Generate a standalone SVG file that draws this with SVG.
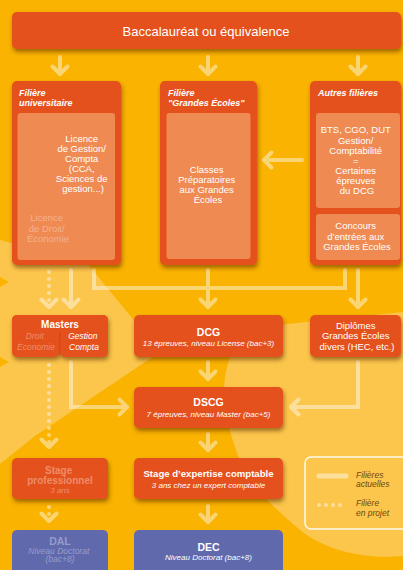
<svg xmlns="http://www.w3.org/2000/svg" width="403" height="570" viewBox="0 0 403 570">
<style>
.box{fill:#E5511A}
.panel{fill:#EF8A52}
.blue{fill:#6169AD}
.t{font-family:"Liberation Sans",Arial,sans-serif;fill:#fff;text-anchor:middle}
.ti{font-family:"Liberation Sans",Arial,sans-serif;fill:#fff;font-style:italic;font-weight:bold;font-size:9px}
.b{font-weight:bold}
.i{font-style:italic}
.fade{fill-opacity:0.35}
.lg{font-family:"Liberation Sans",Arial,sans-serif;fill:#6E4813;font-style:italic;font-size:8.5px}
.ln{fill:none;stroke:#fff;stroke-width:4;stroke-linecap:round}
.dot{stroke-dasharray:0 7}
</style>
<defs>
<filter id="sh" x="-10%" y="-15%" width="125%" height="145%">
<feDropShadow dx="1" dy="3" stdDeviation="2" flood-color="#5a2800" flood-opacity="0.55"/>
</filter>
<marker id="ah" markerUnits="userSpaceOnUse" markerWidth="24" markerHeight="24" viewBox="-12 -12 24 24" refX="0" refY="0" orient="auto">
<path d="M-7.5,-7.5 L0,0 L-7.5,7.5" fill="none" stroke="#fff" stroke-width="4" stroke-linecap="round" stroke-linejoin="round"/>
</marker>
</defs>
<rect width="403" height="570" fill="#F9B300"/>
<g id="background" fill="#FBC64B">
<path d="M0,240 L86,262 L160,352 L35,436 L0,464 Z"/>
<path d="M250,328 L403,312 L403,556 C360,560 322,548 300,530 C270,505 245,480 236,450 C222,410 220,380 232,352 Z"/>
<path d="M0,277 L9,282 L0,287 Z M0,357 L9,362 L0,367 Z" fill="#F9B300"/>
</g>

<g id="connectors" opacity="0.45">
<path class="ln" d="M60,57 V74" marker-end="url(#ah)"/>
<path class="ln" d="M208,57 V74" marker-end="url(#ah)"/>
<path class="ln" d="M358,57 V74" marker-end="url(#ah)"/>
<path class="ln" d="M302,160 H264" marker-end="url(#ah)"/>
<path class="ln dot" d="M49,272 V307" marker-end="url(#ah)"/>
<path class="ln" d="M71,270 V307" marker-end="url(#ah)"/>
<path class="ln" d="M94,270 V288 H345 V270" stroke-linejoin="miter" stroke-linecap="butt"/>
<path class="ln" d="M208,270 V307" marker-end="url(#ah)"/>
<path class="ln" d="M358,270 V307" marker-end="url(#ah)"/>
<path class="ln" d="M208,362 V379" marker-end="url(#ah)"/>
<path class="ln" d="M71,362 V407 H127" marker-end="url(#ah)"/>
<path class="ln" d="M358,362 V407 H291" marker-end="url(#ah)"/>
<path class="ln dot" d="M49,365 V447" marker-end="url(#ah)"/>
<path class="ln" d="M208,434 V450" marker-end="url(#ah)"/>
<path class="ln dot" d="M49,507 V521" marker-end="url(#ah)"/>
<path class="ln" d="M208,506 V522" marker-end="url(#ah)"/>
</g>

<g id="bac">
<rect class="box" x="12" y="12" width="389" height="37" rx="5" filter="url(#sh)"/>
<text class="t" x="206" y="35.5" font-size="13">Baccalauréat ou équivalence</text>
</g>

<g id="filiere-universitaire">
<rect class="box" x="12" y="81" width="109" height="184" rx="5" filter="url(#sh)"/>
<text class="ti" x="19" y="96">Filière</text>
<text class="ti" x="19" y="106">universitaire</text>
<rect class="panel" x="17.5" y="113" width="97.5" height="147" rx="3"/>
<text class="t" font-size="9.5">
<tspan x="83" y="141.6">Licence</tspan>
<tspan x="83" y="151.7">de Gestion/</tspan>
<tspan x="83" y="161.8">Compta</tspan>
<tspan x="83" y="171.9">(CCA,</tspan>
<tspan x="83" y="182">Sciences de</tspan>
<tspan x="83" y="192">gestion...)</tspan>
</text>
<text class="t fade" font-size="9.5">
<tspan x="48" y="221">Licence</tspan>
<tspan x="48" y="231.5">de Droit/</tspan>
<tspan x="48" y="242">Économie</tspan>
</text>
</g>

<g id="filiere-grandes-ecoles">
<rect class="box" x="160" y="81" width="97" height="184" rx="5" filter="url(#sh)"/>
<text class="ti" x="168" y="96">Filière</text>
<text class="ti" x="168" y="106">"Grandes Écoles"</text>
<rect class="panel" x="166.5" y="113" width="84" height="146" rx="3"/>
<text class="t" font-size="9.5">
<tspan x="208" y="172.6">Classes</tspan>
<tspan x="208" y="182.6">Préparatoires</tspan>
<tspan x="208" y="192.6">aux Grandes</tspan>
<tspan x="208" y="202.6">Écoles</tspan>
</text>
</g>

<g id="autres-filieres">
<rect class="box" x="310" y="81" width="91" height="184" rx="5" filter="url(#sh)"/>
<text class="ti" x="318" y="96">Autres filières</text>
<rect class="panel" x="316" y="113" width="84" height="95" rx="3"/>
<text class="t" font-size="9.5">
<tspan x="357" y="133.3">BTS, CGO, DUT</tspan>
<tspan x="357" y="144">Gestion/</tspan>
<tspan x="357" y="154.3">Comptabilité</tspan>
<tspan x="357" y="164.3">=</tspan>
<tspan x="357" y="174">Certaines</tspan>
<tspan x="357" y="184">épreuves</tspan>
<tspan x="357" y="194.3">du DCG</tspan>
</text>
<rect class="panel" x="316" y="214" width="84" height="46" rx="3"/>
<text class="t" font-size="9.5">
<tspan x="357" y="229">Concours</tspan>
<tspan x="357" y="240">d’entrées aux</tspan>
<tspan x="357" y="250">Grandes Écoles</tspan>
</text>
</g>

<g id="masters">
<g filter="url(#sh)">
<rect class="box" x="12" y="315" width="47.5" height="42" rx="5"/>
<rect class="box" x="60" y="315" width="48" height="42" rx="5"/>
<rect class="box" x="12" y="315" width="96" height="22" rx="5"/>
</g>
<line x1="59.75" y1="332" x2="59.75" y2="355" stroke="#B9420F" stroke-width="0.8"/>
<text class="t b" x="60" y="328" font-size="10">Masters</text>
<text class="t i fade" font-size="8.5">
<tspan x="36" y="339">Droit</tspan>
<tspan x="36" y="350">Économie</tspan>
</text>
<text class="t i" font-size="8.5">
<tspan x="84" y="339">Gestion</tspan>
<tspan x="84" y="350">Compta</tspan>
</text>
</g>

<g id="dcg">
<rect class="box" x="134" y="315" width="149" height="42" rx="5" filter="url(#sh)"/>
<text class="t b" x="208.5" y="335.5" font-size="10.5">DCG</text>
<text class="t i" x="208.5" y="346" font-size="8">13 épreuves, niveau License (bac+3)</text>
</g>

<g id="diplomes">
<rect class="box" x="310" y="315" width="91" height="42" rx="5" filter="url(#sh)"/>
<text class="t" font-size="9.5">
<tspan x="357" y="328.6">Diplômes</tspan>
<tspan x="357" y="338.6">Grandes Écoles</tspan>
<tspan x="357" y="349.5">divers (HEC, etc.)</tspan>
</text>
</g>

<g id="dscg">
<rect class="box" x="134" y="387" width="149" height="41" rx="5" filter="url(#sh)"/>
<text class="t b" x="208.5" y="406" font-size="10.5">DSCG</text>
<text class="t i" x="208.5" y="416.5" font-size="8">7 épreuves, niveau Master (bac+5)</text>
</g>

<g id="stage-professionnel">
<rect class="box" x="12" y="458" width="96" height="41" rx="5" filter="url(#sh)"/>
<text class="t b fade" font-size="10">
<tspan x="60" y="473.5">Stage</tspan>
<tspan x="60" y="483.5">professionnel</tspan>
</text>
<text class="t i fade" x="60" y="492.5" font-size="8">3 ans</text>
</g>

<g id="stage-expertise">
<rect class="box" x="134" y="458" width="149" height="41" rx="5" filter="url(#sh)"/>
<text class="t b" x="208.5" y="477" font-size="9.6">Stage d’expertise comptable</text>
<text class="t i" x="208.5" y="488" font-size="8">3 ans chez un expert comptable</text>
</g>

<g id="legend">
<rect x="305" y="457" width="104" height="72" rx="6" fill="none" stroke="#fff" stroke-width="1.5" stroke-opacity="0.9"/>
<g opacity="0.45">
<line x1="319" y1="476" x2="346" y2="476" stroke="#fff" stroke-width="5" stroke-linecap="round"/>
<line x1="319" y1="505" x2="347" y2="505" stroke="#fff" stroke-width="4" stroke-linecap="round" stroke-dasharray="0 7"/>
</g>
<text class="lg"><tspan x="356" y="477.5">Filières</tspan><tspan x="356" y="487">actuelles</tspan></text>
<text class="lg"><tspan x="356" y="506">Filière</tspan><tspan x="356" y="515.5">en projet</tspan></text>
</g>

<g id="dal">
<rect class="blue" x="12" y="530" width="96" height="50" rx="5"/>
<text class="t b fade" x="60" y="544.5" font-size="10.5">DAL</text>
<text class="t i fade" font-size="8.5">
<tspan x="60" y="553.5">Niveau Doctorat</tspan>
<tspan x="60" y="562">(bac+8)</tspan>
</text>
</g>

<g id="dec">
<rect class="blue" x="134" y="530" width="149" height="50" rx="5"/>
<text class="t b" x="208.5" y="550.5" font-size="10.5">DEC</text>
<text class="t i" x="208.5" y="560" font-size="8">Niveau Doctorat (bac+8)</text>
</g>
</svg>
